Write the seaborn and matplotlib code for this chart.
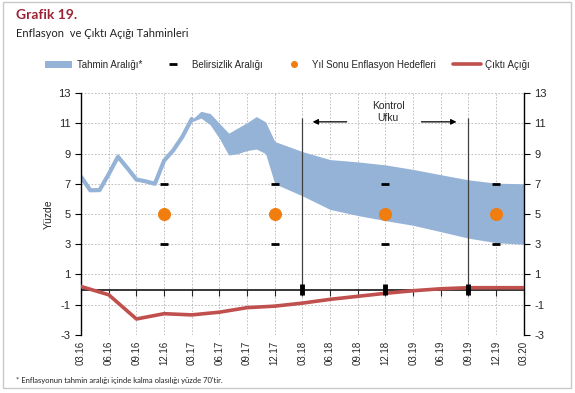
import numpy as np
import pandas as pd
import matplotlib.pyplot as plt
import seaborn as sns
from matplotlib.patches import Patch, Rectangle
from matplotlib.lines import Line2D

# months counted from 03.16 (=0)
quarter_labels = ["03.16", "06.16", "09.16", "12.16", "03.17", "06.17", "09.17", "12.17",
                  "03.18", "06.18", "09.18", "12.18", "03.19", "06.19", "09.19", "12.19", "03.20"]

# realized inflation, monthly 03.16 - 03.17
hist_month = list(range(0, 13))
hist_infl = [7.46, 6.57, 6.58, 7.64, 8.79, 8.05, 7.28, 7.16, 7.00, 8.53, 9.22, 10.13, 11.29]

# forecast band edges
band_month = [12, 13, 14, 15, 16, 17, 18, 19, 20, 21, 24, 27, 30, 33, 36, 39, 42, 45, 48]
band_upper = [11.25, 11.8, 11.65, 11.0, 10.35, 10.7, 11.05, 11.45, 11.1, 9.8, 9.13, 8.6, 8.45,
              8.25, 7.95, 7.6, 7.26, 7.04, 7.0]
band_lower = [11.1, 11.35, 10.9, 10.0, 8.9, 9.0, 9.2, 9.3, 9.0, 7.0, 6.2, 5.3, 4.9,
              4.56, 4.25, 3.83, 3.4, 3.1, 3.0]

# year-end targets and uncertainty band
target_month = [9, 21, 33, 45]
target_val = [5, 5, 5, 5]
unc_low = [3, 3, 3, 3]
unc_high = [7, 7, 7, 7]

# output gap, quarterly
gap_month = list(range(0, 49, 3))
gap_val = [0.2, -0.35, -1.95, -1.6, -1.68, -1.5, -1.2, -1.1, -0.9, -0.65, -0.45, -0.25,
           -0.08, 0.05, 0.12, 0.12, 0.12]

# control horizon
horizon_month = [24, 42]
axis_marks = [24, 33, 42]

blue = "#95b3d7"
red = "#c0504d"
orange = "#f07d0e"

sns.set_style("white")
plt.rcParams["font.family"] = ["Liberation Sans", "DejaVu Sans"]
plt.rcParams["axes.unicode_minus"] = False

fig = plt.figure(figsize=(5.75, 3.93), dpi=100)
ax = fig.add_axes([0.141, 0.148, 0.770, 0.615])

# grid
for m in range(0, 49, 3):
    ax.axvline(m, color="#b5b5b5", lw=0.6, ls=(0, (2, 2)), zorder=0)
for v in range(-3, 14, 2):
    ax.axhline(v, color="#b5b5b5", lw=0.6, ls=(0, (2, 2)), zorder=0)

ax.fill_between(band_month, band_lower, band_upper, color=blue, lw=0, zorder=2)
sns.lineplot(x=hist_month, y=hist_infl, color=blue, lw=3.0, ax=ax, zorder=2)
sns.lineplot(x=gap_month, y=gap_val, color=red, lw=2.6, ax=ax, zorder=4)
sns.scatterplot(x=target_month, y=target_val, color=orange, s=75, edgecolor=orange, ax=ax, zorder=5)
ax.plot(target_month, unc_low, ls="none", marker="_", ms=6, mew=2, color="black", zorder=5)
ax.plot(target_month, unc_high, ls="none", marker="_", ms=6, mew=2, color="black", zorder=5)

ax.axhline(0, color="black", lw=1.1, zorder=3)
ax.vlines(horizon_month, 0, 11.35, color="#404040", lw=0.9, zorder=3)
ax.vlines(axis_marks, -0.35, 0.35, color="black", lw=3.5, zorder=6)

ax.annotate("", xy=(24.8, 11.1), xytext=(29.1, 11.1),
            arrowprops=dict(arrowstyle="-|>", color="black", lw=0.9, mutation_scale=8))
ax.annotate("", xy=(41.0, 11.1), xytext=(36.6, 11.1),
            arrowprops=dict(arrowstyle="-|>", color="black", lw=0.9, mutation_scale=8))
ax.text(33.3, 11.75, "Kontrol\nUfku", ha="center", va="center", fontsize=7.5)

ax.set_xlim(0, 48)
ax.set_ylim(-3, 13)
ax.set_yticks(range(-3, 14, 2))
ax.set_xticks(range(0, 49, 3))
ax.set_xticklabels(quarter_labels, rotation=90, fontsize=7)
ax.tick_params(axis="x", length=0, pad=4)
ax.tick_params(axis="y", labelsize=8, length=4, direction="out", left=True, right=True,
               labelleft=True, labelright=True, color="black")
ax.set_ylabel("Yüzde", fontsize=7.5, labelpad=3)

sec = ax.secondary_xaxis(3 / 16)
sec.set_xticks(range(0, 49, 3))
sec.tick_params(axis="x", length=4, direction="out", labelbottom=False, labeltop=False,
                bottom=True, top=False)
sec.spines["bottom"].set_visible(False)
sec.spines["top"].set_visible(False)

for s in ["top", "bottom"]:
    ax.spines[s].set_visible(False)
for s in ["left", "right"]:
    ax.spines[s].set_color("black")
    ax.spines[s].set_linewidth(1.0)

handles = [
    Patch(facecolor=blue, edgecolor="none"),
    Line2D([], [], ls="none", marker="_", ms=6, mew=2, color="black"),
    Line2D([], [], ls="none", marker="o", ms=4, color=orange),
    Line2D([], [], color=red, lw=2.6),
]
labels = ["Tahmin Aralığı*", "Belirsizlik Aralığı", "Yıl Sonu Enflasyon Hedefleri", "Çıktı Açığı"]
fig.legend(handles, labels, loc="center", bbox_to_anchor=(0.5, 0.835), ncol=4, frameon=False,
           fontsize=7, handlelength=2.8, columnspacing=1.8, handletextpad=0.5)

fig.text(0.027, 0.962, "Grafik 19.", fontsize=10, fontweight="bold", color="#9b2335",
         va="center", family=["Lato", "DejaVu Sans"])
fig.text(0.027, 0.915, "Enflasyon  ve Çıktı Açığı Tahminleri", fontsize=8, va="center",
         color="#222222", family=["Lato", "DejaVu Sans"])
fig.text(0.027, 0.033, "* Enflasyonun tahmin aralığı içinde kalma olasılığı yüzde 70'tir.",
         fontsize=5.5, va="center", color="#222222", family=["Lato", "DejaVu Sans"])

fig.add_artist(Rectangle((0.005, 0.012), 0.988, 0.983, transform=fig.transFigure,
                         fill=False, edgecolor="#c8c8c8", lw=1))

fig.savefig("out.png", dpi=100)
